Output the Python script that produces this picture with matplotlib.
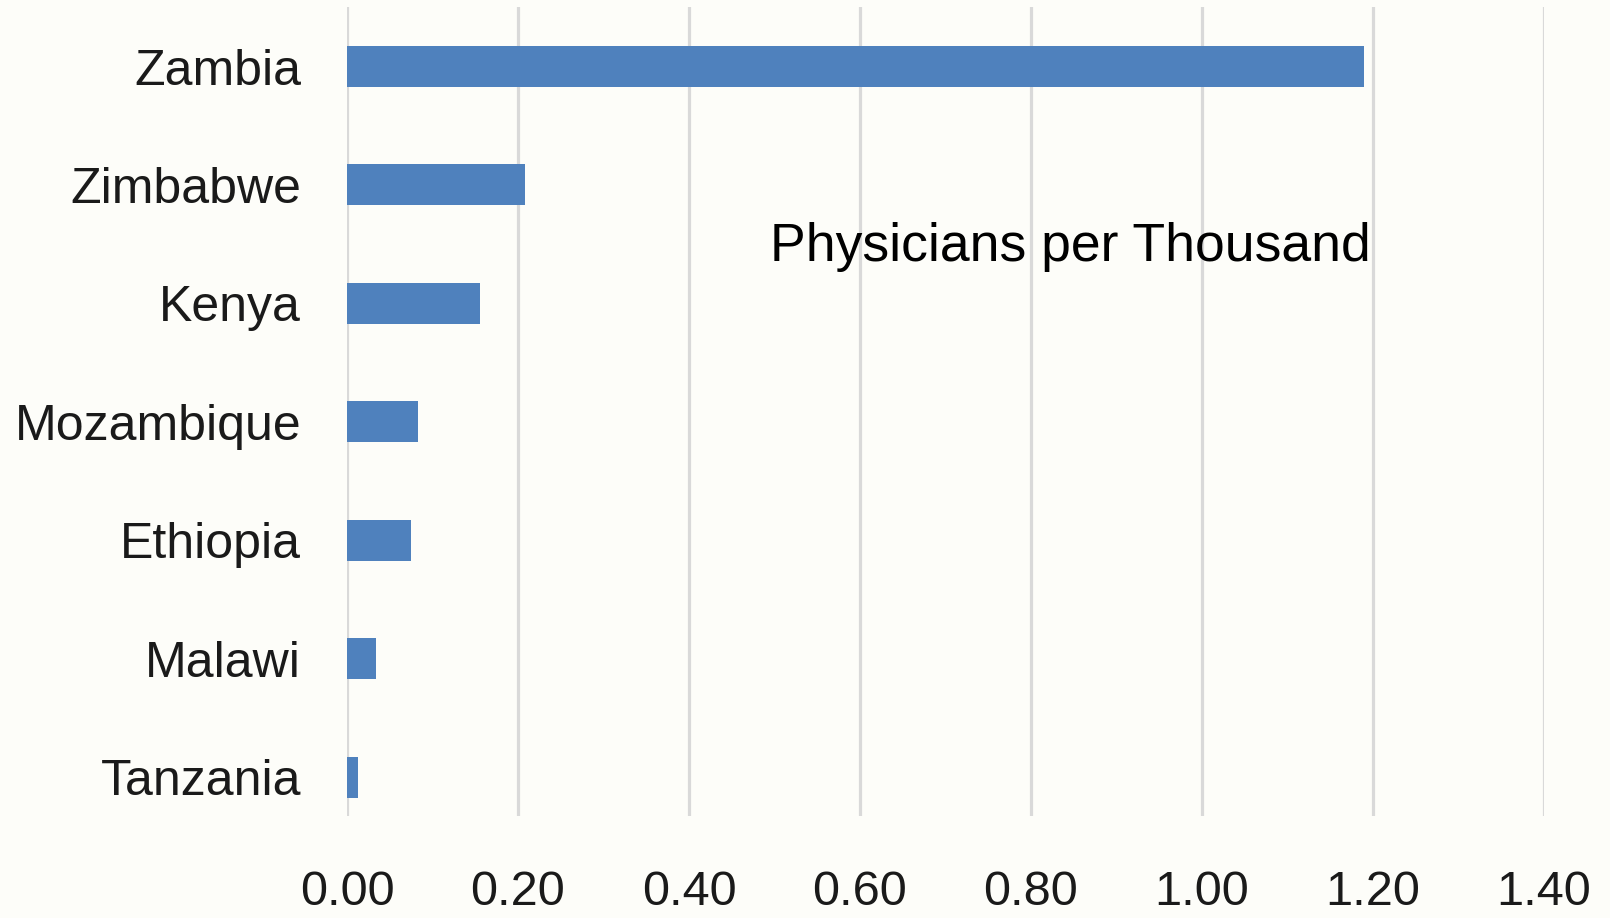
import matplotlib.pyplot as plt
import numpy as np

plt.rcParams['font.family'] = ['Liberation Sans', 'DejaVu Sans']

countries = ['Zambia', 'Zimbabwe', 'Kenya', 'Mozambique', 'Ethiopia', 'Malawi', 'Tanzania']
physicians = [1.19, 0.208, 0.156, 0.083, 0.075, 0.034, 0.013]
xticks = [0.0, 0.2, 0.4, 0.6, 0.8, 1.0, 1.2, 1.4]

bg = '#fdfdf9'
bar_color = '#4f81bd'
grid_color = '#d9d9d9'

fig = plt.figure(figsize=(16.1, 9.18), dpi=100, facecolor=bg)
ax = fig.add_axes([0.2155, 0.111, 0.7435, 0.881], facecolor=bg)

y = np.arange(len(countries))
ax.barh(y, physicians, height=0.346, color=bar_color, zorder=3)

ax.set_xlim(0, 1.4)
ax.set_ylim(6.33, -0.5)
ax.set_xticks(xticks)
ax.set_xticklabels([f'{v:.2f}' for v in xticks])
ax.set_yticks(y)
ax.set_yticklabels(countries)

ax.grid(axis='x', color=grid_color, linewidth=2.3, zorder=0)
ax.grid(axis='y', visible=False)
for s in ax.spines.values():
    s.set_visible(False)

# labels sit right at the bottom edge, like the original
ax.tick_params(axis='x', length=0, pad=39, labelsize=35, colors='#1a1a1a')
ax.tick_params(axis='y', length=0, pad=33, labelsize=36, colors='#1a1a1a')

ax.text(0.495, 1.64, 'Physicians per Thousand', fontsize=38.5,
        color='black', ha='left', va='baseline', zorder=4)

fig.savefig('out.png', dpi=100, facecolor=bg)
